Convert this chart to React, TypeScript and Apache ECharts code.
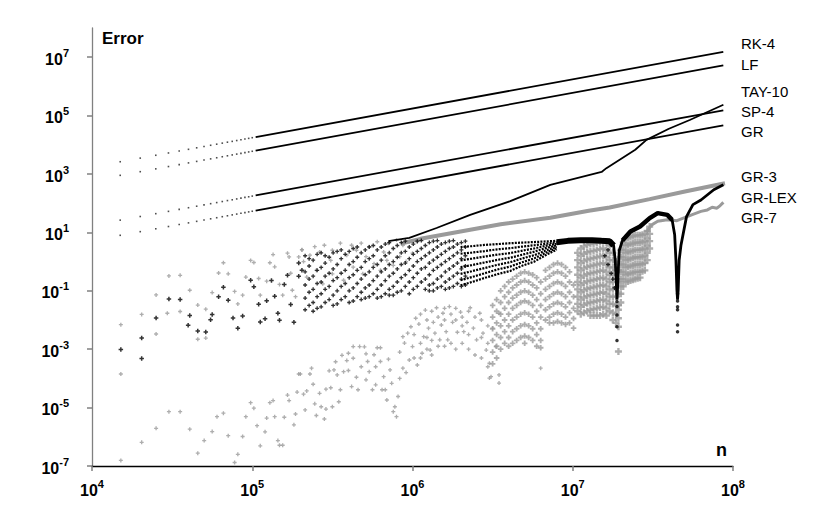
import React, { useEffect, useRef } from "react";
import * as echarts from "echarts";

// ---------- axis ticks ----------
const X_TICKS = [1e4, 1e5, 1e6, 1e7, 1e8];
const Y_TICKS = [1e-7, 1e-5, 1e-3, 1e-1, 1e1, 1e3, 1e5, 1e7];

// ---------- series names (right-hand labels) ----------
const SERIES_LABELS = ["RK-4", "LF", "TAY-10", "SP-4", "GR", "GR-3", "GR-LEX", "GR-7"];

// ---------- power-law series: sparse sample dots (n, error) ----------
const N_DOTS = [15000, 20000, 25000, 30000, 35000, 40000, 45000, 50000, 55000, 60000, 65000, 70000, 75000, 80000, 85000, 90000, 95000, 100000];
const RK4_DOTS = [2630, 3500, 4380, 5250, 6130, 7000, 7880, 8750, 9630, 10500, 11400, 12300, 13100, 14000, 14900, 15800, 16600, 17500];
const LF_DOTS = [900, 1200, 1500, 1800, 2100, 2400, 2700, 3000, 3300, 3600, 3900, 4200, 4500, 4800, 5100, 5400, 5700, 6000];
const SP4_DOTS = [26.3, 35.0, 43.8, 52.5, 61.3, 70.0, 78.8, 87.5, 96.3, 105, 114, 123, 131, 140, 149, 158, 166, 175];
const GR_DOTS = [7.95, 10.6, 13.3, 15.9, 18.6, 21.2, 23.9, 26.5, 29.2, 31.8, 34.5, 37.1, 39.8, 42.4, 45.1, 47.7, 50.4, 53.0];

// ---------- power-law series: dense part (n, error) ----------
const N_LINE = [105000, 87000000];
const RK4_LINE = [18400, 15200000];
const LF_LINE = [6300, 5220000];
const SP4_LINE = [184, 152000];
const GR_LINE = [55.7, 46100];

// ---------- curves, as [log10 n, log10 error] ----------
const TAY10_LOG: [number, number][] = [
  [5.85, 0.7], [5.98, 0.81], [6.15, 1.15], [6.36, 1.6], [6.61, 2.07], [6.86, 2.63], [7.18, 3.07],
  [7.21, 3.2], [7.39, 3.83], [7.46, 4.17], [7.6, 4.55], [7.73, 4.85], [7.94, 5.37],
];
const GR3_LOG: [number, number][] = [
  [5.93, 0.62], [6.05, 0.78], [6.3, 1.03], [6.55, 1.28], [6.86, 1.5], [7.1, 1.74], [7.23, 1.85],
  [7.48, 2.14], [7.7, 2.4], [7.95, 2.685],
];
const GRLEX_LOG: [number, number][] = [
  [6.9, 0.66], [6.97, 0.71], [7.05, 0.73], [7.12, 0.73], [7.18, 0.71], [7.23, 0.7], [7.255, 0.55],
  [7.265, 0.05], [7.272, -0.74], [7.276, -1.3], [7.281, -0.76], [7.285, -0.19], [7.29, 0.38],
  [7.31, 0.72], [7.36, 1.03], [7.42, 1.2], [7.48, 1.49], [7.53, 1.66], [7.59, 1.6], [7.62, 1.43],
  [7.636, 0.92], [7.644, 0.04], [7.65, -0.97], [7.654, -1.3], [7.658, -0.97], [7.664, 0.04],
  [7.675, 0.55], [7.71, 1.54], [7.75, 1.95], [7.8, 2.11], [7.88, 2.46], [7.94, 2.63],
];
const GR7_LOG: [number, number][] = [
  [7.46, 1.0], [7.49, 1.25], [7.53, 1.38], [7.59, 1.43], [7.65, 1.4], [7.69, 1.49], [7.75, 1.62],
  [7.8, 1.72], [7.84, 1.77], [7.87, 1.86], [7.9, 1.83], [7.92, 1.92], [7.94, 2.03],
];

// converging strands of the black fan, [log10 n, log10 error]
const FAN_N = [6.3, 6.37, 6.45, 6.53, 6.61, 6.68, 6.76, 6.83, 6.9];
const FAN_STRANDS: number[][] = [
  [0.5, 0.53, 0.57, 0.6, 0.63, 0.65, 0.67, 0.69, 0.71],
  [0.27, 0.31, 0.36, 0.42, 0.46, 0.51, 0.56, 0.61, 0.66],
  [0.04, 0.1, 0.17, 0.24, 0.29, 0.37, 0.45, 0.54, 0.61],
  [-0.19, -0.12, -0.03, 0.06, 0.13, 0.23, 0.34, 0.46, 0.56],
  [-0.42, -0.33, -0.22, -0.11, -0.02, 0.1, 0.22, 0.38, 0.51],
  [-0.64, -0.53, -0.4, -0.27, -0.17, -0.03, 0.11, 0.3, 0.46],
  [-0.81, -0.7, -0.56, -0.43, -0.32, -0.15, 0.0, 0.22, 0.41],
];

// ---------- point clouds, [log10 n, log10 error] ----------
const BLACK_EARLY: [number, number][] = [
  [4.18, -3.01], [4.31, -3.32], [4.31, -2.62], [4.4, -1.93], [4.48, -1.28], [4.55, -1.3], [4.6, -2.18],
  [4.61, -1.85], [4.66, -2.38], [4.71, -2.41], [4.75, -1.81], [4.74, -1.99], [4.79, -1.2], [4.82, -0.88],
  [4.85, -1.32], [4.88, -1.93], [4.91, -2.28], [4.94, -1.86], [4.99, -0.64], [5.01, -0.86], [5.04, -1.46],
  [5.05, -2.07], [5.08, -1.96], [5.09, -1.34], [5.12, -0.65], [5.14, -1.19], [5.16, -1.77], [5.17, -2.01],
  [5.2, -0.78], [5.22, -0.47], [5.24, -1.47], [5.26, -2.08], [5.29, -0.05], [5.29, -0.5], [5.31, -0.3],
];
const BLACK_MID: [number, number[]][] = [
  [5.33, [0.2, -0.35, -0.8, -1.25, -1.65]],
  [5.355, [0.1, -0.15, -0.6, -1.05, -1.5]],
  [5.38, [0.05, -0.5, -0.95, -1.4, -1.7]],
  [5.405, [0.25, -0.3, -0.75, -1.2, -1.6]],
  [5.43, [0.3, -0.2, -0.7, -1.1, -1.55]],
  [5.455, [0.2, -0.05, -0.5, -0.95, -1.4]],
  [5.48, [0.15, -0.4, -0.85, -1.3]],
  [5.505, [0.3, -0.25, -0.65, -1.15, -1.5]],
  [5.53, [0.35, -0.1, -0.55, -1.0, -1.45]],
  [5.555, [0.4, 0.1, -0.4, -0.85, -1.3]],
  [5.58, [0.25, -0.3, -0.75, -1.2]],
  [5.605, [0.35, -0.1, -0.55, -1.0, -1.4]],
  [5.63, [0.45, 0.0, -0.45, -0.9, -1.35]],
  [5.655, [0.5, 0.15, -0.3, -0.75, -1.2]],
  [5.68, [0.3, -0.2, -0.6, -1.05, -1.3]],
  [5.705, [0.4, 0.0, -0.45, -0.9, -1.25]],
  [5.73, [0.5, 0.1, -0.35, -0.8, -1.2]],
  [5.755, [0.55, 0.2, -0.2, -0.65, -1.1]],
  [5.78, [0.4, -0.1, -0.5, -0.95, -1.25]],
  [5.805, [0.5, 0.05, -0.35, -0.8, -1.2]],
  [5.83, [0.6, 0.2, -0.25, -0.65, -1.1]],
  [5.855, [0.65, 0.3, -0.1, -0.5, -0.95, -1.15]],
  [5.88, [0.45, 0.0, -0.4, -0.85, -1.15]],
  [5.905, [0.55, 0.15, -0.25, -0.7, -1.05]],
  [5.93, [0.65, 0.3, -0.1, -0.55, -1.0]],
  [5.955, [0.7, 0.35, -0.05, -0.45, -0.85]],
  [5.98, [0.5, 0.1, -0.3, -0.7, -1.1]],
  [6.005, [0.6, 0.25, -0.15, -0.55, -0.95]],
  [6.03, [0.7, 0.35, 0.0, -0.4, -0.85]],
  [6.055, [0.72, 0.45, 0.1, -0.25, -0.7]],
  [6.08, [0.55, 0.2, -0.2, -0.6, -0.95]],
  [6.105, [0.65, 0.3, -0.05, -0.45, -0.8, -1.0]],
  [6.13, [0.7, 0.4, 0.05, -0.3, -0.75, -1.0]],
  [6.155, [0.72, 0.5, 0.15, -0.2, -0.6, -0.9]],
  [6.18, [0.6, 0.25, -0.1, -0.5, -0.85]],
  [6.205, [0.65, 0.35, 0.0, -0.35, -0.7, -0.95]],
  [6.23, [0.7, 0.45, 0.1, -0.25, -0.6, -0.9]],
  [6.255, [0.72, 0.5, 0.2, -0.15, -0.5, -0.85]],
  [6.28, [0.6, 0.3, -0.05, -0.4, -0.75]],
  [6.305, [0.65, 0.4, 0.1, -0.25, -0.6, -0.85]],
  [6.33, [0.7, 0.5, 0.2, -0.15, -0.5, -0.8]],
  [7.2, [0.2]], [7.22, [-0.1, 0.4]], [7.24, [-0.4]], [7.25, [-0.6]], [7.26, [-0.9]],
];
const BLACK_TAILS: [number, number][] = [
  [7.276, -1.37], [7.276, -1.54], [7.276, -1.83], [7.276, -2.23], [7.276, -2.7],
  [7.654, -1.1], [7.654, -1.35], [7.654, -1.55], [7.654, -1.65], [7.654, -2.17], [7.654, -2.4],
];
const GRAY_UPPER: [number, number][] = [
  [4.18, -2.16], [4.31, -1.81], [4.4, -2.48], [4.4, -1.14], [4.48, -0.49], [4.47, -1.77], [4.55, -0.47],
  [4.55, -1.71], [4.61, -0.98], [4.66, -1.49], [4.66, -2.66], [4.71, -1.63], [4.71, -2.62], [4.79, -0.39],
  [4.82, -0.04], [4.75, -1.06], [4.85, -0.42], [4.89, -1.02], [4.91, -1.45], [4.94, -1.15], [4.96, -0.53],
  [4.99, 0.04], [5.01, -0.03], [5.04, -0.58], [5.05, -1.15], [5.09, -0.67], [5.11, -0.04], [5.13, 0.24],
  [5.14, -0.18], [5.17, -0.78], [5.19, -1.15], [5.22, 0.29], [5.23, 0.16], [5.24, -0.4], [5.25, -0.98],
  [5.27, -1.2], [5.29, 0.16], [5.31, 0.4],
  [5.31, 0.41], [5.32, 0.0], [5.36, 0.22], [5.39, 0.51], [5.42, 0.33], [5.45, 0.56], [5.49, 0.04],
  [5.5, 0.39], [5.55, 0.63], [5.59, 0.22], [5.62, 0.56], [5.65, 0.39], [5.68, 0.63], [5.71, 0.17],
  [5.73, 0.51], [5.78, 0.68], [5.82, 0.33], [5.85, 0.63], [5.9, 0.74], [5.94, 0.56], [5.98, 0.68],
  [6.03, 0.68], [5.34, -0.53], [5.4, -0.3], [5.44, -0.76], [5.5, -0.42], [5.57, -0.64], [5.63, -0.19],
  [5.69, -0.42], [5.76, -0.07], [5.8, -0.3], [5.84, 0.04], [5.88, -0.13], [5.92, 0.17], [5.96, 0.0],
  [6.0, 0.29],
];
const GRAY_LOWER: [number, number][] = [
  [4.18, -3.85], [4.18, -6.81], [4.31, -6.19], [4.4, -5.71], [4.48, -5.14], [4.55, -5.14], [4.61, -5.74],
  [4.66, -6.56], [4.7, -6.13], [4.75, -5.82], [4.78, -5.31], [4.82, -5.19], [4.85, -5.96], [4.89, -6.88],
  [4.91, -6.6], [4.94, -5.99], [4.96, -5.31], [4.99, -4.83], [5.01, -5.02], [5.03, -5.62], [5.05, -6.31],
  [5.08, -5.83], [5.09, -5.36], [5.11, -4.83], [5.13, -4.76], [5.14, -5.31], [5.16, -6.13], [5.17, -6.29],
  [5.19, -6.29], [5.2, -5.33], [5.22, -4.57], [5.23, -4.76], [5.26, -5.59], [5.27, -5.22], [5.28, -4.47],
  [5.29, -3.85],
  [5.3, -3.85], [5.32, -4.54], [5.33, -5.08], [5.34, -4.43], [5.36, -3.85], [5.37, -3.65], [5.38, -4.2],
  [5.39, -4.87], [5.4, -5.27], [5.42, -4.51], [5.43, -4.97], [5.45, -5.39], [5.46, -5.05], [5.46, -4.37],
  [5.48, -3.74], [5.49, -4.32], [5.5, -4.97], [5.51, -3.71], [5.52, -3.43], [5.53, -3.88], [5.54, -4.8],
  [5.55, -4.39], [5.56, -3.21], [5.57, -3.77], [5.59, -3.39], [5.6, -3.14], [5.6, -3.73], [5.62, -4.28],
  [5.63, -2.91], [5.63, -3.31], [5.65, -3.96], [5.66, -4.39], [5.67, -2.91], [5.68, -3.6], [5.7, -2.92],
  [5.71, -4.05], [5.71, -3.16], [5.72, -3.42], [5.73, -3.77], [5.75, -4.39], [5.76, -3.19], [5.77, -3.6],
  [5.77, -4.22], [5.78, -2.95], [5.8, -3.42], [5.8, -2.95], [5.81, -4.39], [5.82, -3.94], [5.83, -4.39],
  [5.84, -4.74], [5.85, -3.34], [5.86, -3.71], [5.87, -4.17], [5.88, -5.14], [5.89, -4.97], [5.9, -5.31],
  [5.91, -4.62], [5.92, -4.0], [5.92, -3.1], [5.94, -2.57], [5.94, -3.65], [5.95, -2.79], [5.96, -3.8],
  [5.97, -2.45], [5.98, -3.37], [5.99, -2.23], [6.0, -2.91], [6.02, -1.94], [6.03, -3.54], [6.04, -2.14],
  [6.06, -3.14], [6.07, -2.57], [6.08, -1.66], [6.1, -2.28], [6.11, -3.03], [6.13, -2.08], [6.14, -2.45],
  [6.15, -1.58], [6.17, -2.68], [6.18, -2.17], [6.19, -1.77], [6.21, -2.4], [6.22, -2.68], [6.23, -1.54],
  [6.25, -2.08], [6.28, -2.42], [6.3, -1.73], [6.32, -2.4], [6.34, -2.08], [6.36, -1.58], [6.38, -2.28],
  [6.4, -2.68], [6.42, -1.77], [6.44, -2.45], [6.46, -3.03], [6.48, -3.48], [6.49, -3.94], [6.5, -2.28],
  [6.52, -2.91], [6.54, -1.77], [6.48, -3.99], [6.54, -3.88], [6.54, -4.16], [6.8, -3.65],
];
const GRAY_LOWER_MORE: [number, number[]][] = [
  [6.01, [-2.5, -3.3]], [6.05, [-1.8, -2.8, -3.3]], [6.09, [-2.0, -2.6, -3.0]],
  [6.12, [-1.7, -2.7, -3.2]], [6.16, [-1.9, -2.9]], [6.2, [-1.6, -2.0, -2.9]],
  [6.24, [-1.8, -2.8]], [6.27, [-1.6, -2.0, -3.0]], [6.31, [-1.9, -2.2, -2.8]],
  [6.35, [-1.7, -2.5, -3.0]], [6.39, [-1.9, -3.2]], [6.43, [-2.0, -2.6, -3.3]], [6.47, [-2.2, -2.8, -3.6]],
];
// lattice-like gray region of GR-7 between the dips (n < 1e7)
const GRAY_DENSE_A: [number, number[]][] = [
  [6.5, [-1.5, -1.9, -2.3, -2.7, -3.1, -3.5]],
  [6.525, [-1.3, -1.7, -2.1, -2.5, -2.9, -3.3]],
  [6.55, [-1.0, -1.4, -1.8, -2.2, -2.6, -3.0]],
  [6.575, [-0.85, -1.2, -1.6, -2.0, -2.4, -2.8]],
  [6.6, [-0.7, -1.05, -1.4, -1.8, -2.2, -2.6, -2.9]],
  [6.625, [-0.6, -0.9, -1.25, -1.6, -2.0, -2.4, -2.8]],
  [6.65, [-0.5, -0.8, -1.15, -1.5, -1.9, -2.3, -2.7]],
  [6.675, [-0.4, -0.7, -1.05, -1.4, -1.8, -2.2, -2.6]],
  [6.7, [-0.35, -0.65, -1.0, -1.35, -1.75, -2.15, -2.55, -2.8]],
  [6.725, [-0.4, -0.7, -1.05, -1.4, -1.8, -2.2, -2.6]],
  [6.75, [-0.45, -0.8, -1.15, -1.5, -1.9, -2.3, -2.7]],
  [6.775, [-0.55, -0.9, -1.3, -1.7, -2.1, -2.5, -2.9]],
  [6.8, [-0.7, -1.1, -1.5, -1.9, -2.3, -2.7, -2.95]],
  [6.83, [-0.3, -0.6, -0.95, -1.3, -1.65, -2.0]],
  [6.855, [-0.2, -0.5, -0.85, -1.2, -1.55, -1.9, -2.1]],
  [6.88, [-0.1, -0.4, -0.75, -1.1, -1.45, -1.8, -2.1]],
  [6.905, [-0.05, -0.35, -0.7, -1.05, -1.4, -1.75, -2.05]],
  [6.93, [-0.1, -0.4, -0.75, -1.1, -1.45, -1.8, -2.1]],
  [6.955, [-0.2, -0.5, -0.85, -1.2, -1.55, -1.9, -2.15]],
  [6.98, [-0.35, -0.7, -1.05, -1.4, -1.75, -2.1]],
  [7.005, [-0.8, -1.2, -1.6, -1.95, -2.28]],
];
// near-solid gray region of GR-7 (n > 1e7)
const GRAY_DENSE_B: [number, number[]][] = [
  [7.03, [0.3, 0.05, -0.2, -0.45, -0.7, -0.95, -1.2, -1.45, -1.7]],
  [7.05, [0.45, 0.2, -0.05, -0.3, -0.55, -0.8, -1.05, -1.3, -1.55, -1.8]],
  [7.07, [0.52, 0.27, 0.02, -0.23, -0.48, -0.73, -0.98, -1.23, -1.48, -1.75]],
  [7.09, [0.57, 0.32, 0.07, -0.18, -0.43, -0.68, -0.93, -1.18, -1.43, -1.7]],
  [7.11, [0.6, 0.35, 0.1, -0.15, -0.4, -0.65, -0.9, -1.15, -1.4, -1.65, -1.85]],
  [7.13, [0.62, 0.37, 0.12, -0.13, -0.38, -0.63, -0.88, -1.13, -1.38, -1.63, -1.85]],
  [7.15, [0.65, 0.4, 0.15, -0.1, -0.35, -0.6, -0.85, -1.1, -1.35, -1.6, -1.85]],
  [7.17, [0.68, 0.43, 0.18, -0.07, -0.32, -0.57, -0.82, -1.07, -1.32, -1.57, -1.85]],
  [7.19, [0.7, 0.45, 0.2, -0.05, -0.3, -0.55, -0.8, -1.05, -1.3, -1.55, -1.8]],
  [7.21, [0.65, 0.4, 0.15, -0.1, -0.35, -0.6, -0.85, -1.1, -1.35, -1.6, -1.85]],
  [7.23, [0.55, 0.3, 0.05, -0.2, -0.45, -0.7, -0.95, -1.2, -1.45, -1.7]],
  [7.25, [0.3, 0.05, -0.2, -0.45, -0.7, -0.95, -1.2, -1.45, -1.75, -2.0]],
  [7.27, [0.0, -0.3, -0.6, -0.9, -1.2, -1.5, -1.8, -2.1]],
  [7.285, [-0.3, -0.7, -1.1, -1.5, -1.65, -1.94, -2.23, -3.08]],
  [7.3, [0.4, 0.15, -0.1, -0.35, -0.6, -0.85, -1.1, -1.4]],
  [7.315, [0.65, 0.4, 0.15, -0.1, -0.35, -0.6, -0.85]],
  [7.33, [0.8, 0.55, 0.3, 0.05, -0.2, -0.45, -0.7]],
  [7.345, [0.82, 0.57, 0.32, 0.07, -0.18, -0.43, -0.68]],
  [7.36, [0.85, 0.6, 0.35, 0.1, -0.15, -0.4, -0.65]],
  [7.375, [0.87, 0.62, 0.37, 0.12, -0.13, -0.38, -0.62]],
  [7.39, [0.9, 0.65, 0.4, 0.15, -0.1, -0.35, -0.6]],
  [7.405, [0.9, 0.65, 0.4, 0.15, -0.1, -0.35, -0.57]],
  [7.42, [0.9, 0.65, 0.4, 0.15, -0.1, -0.35, -0.55]],
  [7.435, [0.92, 0.67, 0.42, 0.17, -0.08, -0.33]],
  [7.45, [0.95, 0.7, 0.45, 0.2, -0.05, -0.3]],
  [7.465, [1.05, 0.8, 0.55, 0.3, 0.05]],
  [7.48, [1.2, 0.95, 0.7, 0.45]],
];

const FONT = "'Liberation Sans', Arial, sans-serif";
const BLACK = "#000000";
const GRAY = "#9a9a9a";
const PLUS = "path://M1,0H2V1H3V2H2V3H1V2H0V1H1Z";

const fromLog = (pts: [number, number][]) => pts.map(([a, b]) => [Math.pow(10, a), Math.pow(10, b)]);
const fromColumns = (cols: [number, number[]][]) =>
  cols.flatMap(([a, ys]) => ys.map((b) => [Math.pow(10, a), Math.pow(10, b)]));
const zip = (xs: number[], ys: number[]) => xs.map((x, i) => [x, ys[i]]);

const powLabel = (v: number) => {
  const e = Math.round(Math.log10(v));
  return `{b|10}{s|${e}}`;
};
const RICH = {
  b: { fontSize: 16, fontWeight: "bold", fontFamily: FONT, color: BLACK, lineHeight: 20, verticalAlign: "bottom" },
  s: { fontSize: 11, fontWeight: "bold", fontFamily: FONT, color: BLACK, lineHeight: 12, verticalAlign: "top" },
};

function buildOption() {
  const scatter = (data: number[][], color: string, size: number, symbol = PLUS, z = 2) => ({
    type: "scatter", data, symbol, symbolSize: size, itemStyle: { color }, silent: true, z,
  });
  const line = (data: number[][], color: string, width: number, type: any = "solid", z = 3) => ({
    type: "line", data, symbol: "none", showSymbol: false, lineStyle: { color, width, type }, silent: true, z,
  });
  const grLex = fromLog(GRLEX_LOG);

  const series: any[] = [
    scatter(fromLog(GRAY_LOWER), GRAY, 4),
    scatter(fromColumns(GRAY_LOWER_MORE), GRAY, 4),
    scatter(fromColumns(GRAY_DENSE_A), GRAY, 5.5),
    scatter(fromColumns(GRAY_DENSE_B), GRAY, 7),
    scatter(fromLog(GRAY_UPPER), GRAY, 4),
    line(fromLog(GR7_LOG), GRAY, 3),
    line(fromLog(GR3_LOG), GRAY, 4),
    scatter(fromLog(BLACK_EARLY), BLACK, 4.5, PLUS, 4),
    scatter(fromColumns(BLACK_MID), BLACK, 4, PLUS, 4),
    scatter(fromLog(BLACK_TAILS), BLACK, 3.5, "circle", 4),
    ...FAN_STRANDS.map((s) =>
      line(zip(FAN_N, s).map(([a, b]) => [Math.pow(10, a), Math.pow(10, b)]), BLACK, 2.2, [2, 1.2], 4)
    ),
    line(grLex.slice(0, 7), BLACK, 6, "solid", 5),
    line(grLex.slice(13, 20), BLACK, 4.5, "solid", 5),
    line(grLex, BLACK, 2.8, "solid", 5),
    line(fromLog(TAY10_LOG), BLACK, 1.8, "solid", 5),
    scatter(zip(N_DOTS, RK4_DOTS), "#222", 1.6, "rect", 5),
    scatter(zip(N_DOTS, LF_DOTS), "#222", 1.6, "rect", 5),
    scatter(zip(N_DOTS, SP4_DOTS), "#222", 1.6, "rect", 5),
    scatter(zip(N_DOTS, GR_DOTS), "#222", 1.6, "rect", 5),
    line(zip(N_LINE, RK4_LINE), BLACK, 1.8, "solid", 5),
    line(zip(N_LINE, LF_LINE), BLACK, 1.8, "solid", 5),
    line(zip(N_LINE, SP4_LINE), BLACK, 1.8, "solid", 5),
    line(zip(N_LINE, GR_LINE), BLACK, 1.8, "solid", 5),
  ];

  const labelY = [43, 64, 91, 111, 131.5, 176, 197, 217];
  const graphic: any[] = SERIES_LABELS.map((t, i) => ({
    type: "text", x: 741, y: labelY[i], silent: true,
    style: { text: t, fontSize: 15, fontFamily: FONT, fill: BLACK, verticalAlign: "middle", align: "left" },
  }));
  graphic.push({
    type: "text", x: 102, y: 38, silent: true,
    style: { text: "Error", fontSize: 17, fontWeight: "bold", fontFamily: FONT, fill: BLACK, verticalAlign: "middle" },
  });
  graphic.push({
    type: "text", x: 716, y: 450, silent: true,
    style: { text: "n", fontSize: 18, fontWeight: "bold", fontFamily: FONT, fill: BLACK, verticalAlign: "middle" },
  });

  return {
    animation: false,
    backgroundColor: "#ffffff",
    grid: { left: 92, right: 97, top: 28, bottom: 55, containLabel: false },
    xAxis: {
      type: "log", logBase: 10, min: 1e4, max: 1e8,
      axisLine: { show: true, lineStyle: { color: BLACK, width: 1.3 } },
      axisTick: { show: true, length: 5, customValues: X_TICKS, lineStyle: { color: "#808080", width: 1.5 } },
      axisLabel: { show: true, margin: 12, customValues: X_TICKS, formatter: powLabel, rich: RICH },
      splitLine: { show: false }, minorTick: { show: false },
    },
    yAxis: {
      type: "log", logBase: 10, min: 1e-7, max: 1e8,
      axisLine: { show: true, lineStyle: { color: "#808080", width: 1.3 } },
      axisTick: { show: true, length: 5, customValues: Y_TICKS, lineStyle: { color: "#808080", width: 1.5 } },
      axisLabel: { show: true, margin: 23, customValues: Y_TICKS, formatter: powLabel, rich: RICH },
      splitLine: { show: false }, minorTick: { show: false },
    },
    graphic,
    series,
  };
}

export default function App() {
  const ref = useRef<HTMLDivElement | null>(null);
  useEffect(() => {
    if (!ref.current) return;
    const chart = echarts.init(ref.current, undefined, { renderer: "svg" });
    chart.setOption(buildOption() as any);
    return () => chart.dispose();
  }, []);
  return (
    <div
      ref={ref}
      style={{ position: "fixed", left: 0, top: 0, width: 830, height: 521, background: "#fff" }}
    />
  );
}
